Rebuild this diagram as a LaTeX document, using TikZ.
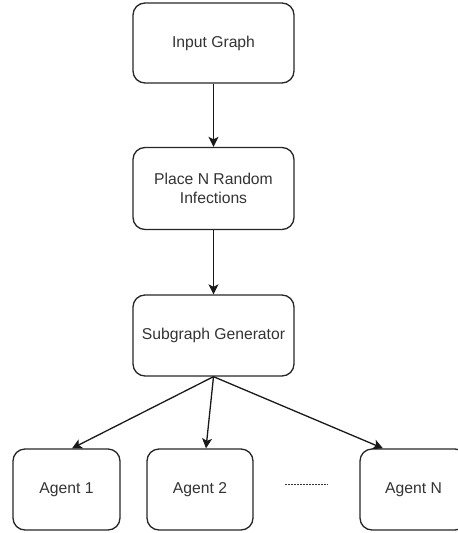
\documentclass[tikz,border=0pt]{standalone}
\usepackage{fontspec}
\setmainfont{Liberation Sans}
\usetikzlibrary{arrows.meta}
\definecolor{txt}{HTML}{333333}
\begin{document}
\begin{tikzpicture}[x=1pt,y=1pt,
  box/.style={draw=black!85, line width=1.3pt, rounded corners=12pt, align=center,
    font=\fontsize{15.7}{19}\selectfont, text=txt, inner sep=0pt},
  bigbox/.style={box, minimum width=161pt, minimum height=80pt},
  agentbox/.style={box, minimum width=107pt, minimum height=81pt},
  arr/.style={draw=black!90, line width=1.3pt, -{Stealth[length=10pt,width=10pt,inset=2.5pt]}}]
\useasboundingbox (0,0) rectangle (458,-533);
\clip (0,0) rectangle (458,-533);
\node[bigbox] (input) at (213.5,-43) {Input Graph};
\node[bigbox, minimum height=82pt] (place) at (213.5,-188.5) {Place N Random\\Infections};
\node[bigbox, minimum height=81pt] (sub) at (213.5,-335.5) {Subgraph Generator};
\node[agentbox] (a1) at (66.5,-489.5) {Agent 1};
\node[agentbox, minimum width=106pt] (a2) at (200,-489.5) {Agent 2};
\node[agentbox] (an) at (413.5,-489.5) {Agent N};
\coordinate (d1) at (285,-484);
\coordinate (d2) at (328,-484);
\draw[black!80, line width=0.8pt, dash pattern=on 1.5pt off 1.5pt] (d1) -- (d2);
\draw[arr] (input.south) -- (place.north);
\draw[arr] (place.south) -- (sub.north);
\draw[arr] (sub.south) -- (a1.north -| 72,0);
\draw[arr] (sub.south) -- (a2.north -| 206,0);
\draw[arr] (sub.south) -- (an.north -| 383,0);
\end{tikzpicture}
\end{document}
